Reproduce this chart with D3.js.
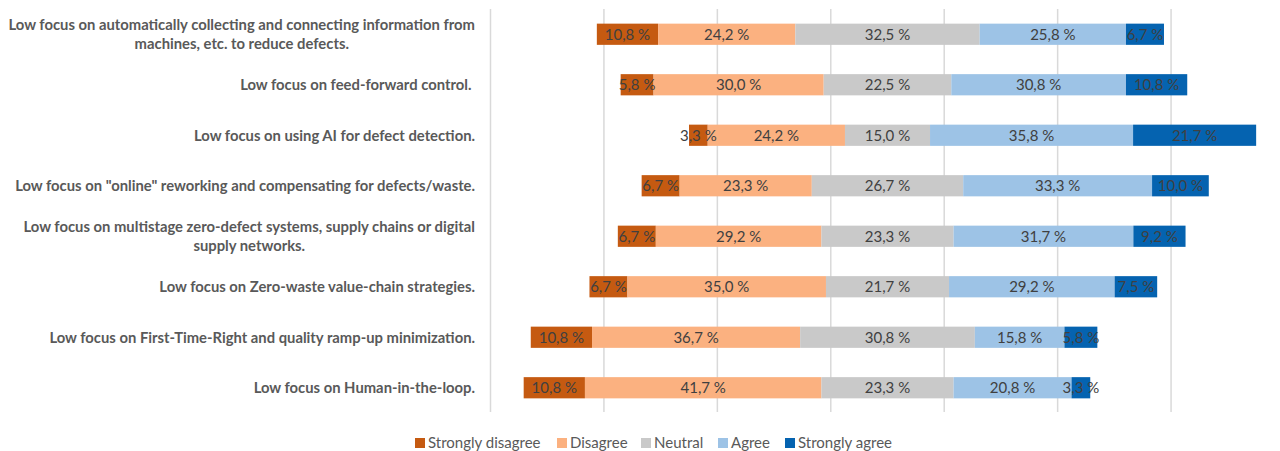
<!DOCTYPE html>
<html>
<head>
<meta charset="utf-8">
<script src="https://cdn.jsdelivr.net/npm/d3@7"></script>
<style>
  html, body { margin: 0; padding: 0; background: #fff; }
  svg { display: block; }
  .cat { font-family: Lato, "Open Sans", sans-serif; font-weight: bold; fill: #595959; white-space: pre; }
  .val { font-family: Lato, "Open Sans", sans-serif; font-size: 15px; fill: #404040; }
  .leg { font-family: Lato, "Open Sans", sans-serif; font-size: 15px; fill: #595959; }
</style>
</head>
<body>
<svg id="chart" width="1280" height="451"></svg>
<script>
// categories, top to bottom (each entry = lines of the label)
const categories = [
    ["Low focus on automatically collecting and connecting information from", "machines, etc. to reduce defects."],
    ["Low focus on feed-forward control. "],
    ["Low focus on using AI for defect detection."],
    ["Low focus on \"online\" reworking and compensating for defects/waste."],
    ["Low focus on multistage zero-defect systems, supply chains or digital", "supply networks."],
    ["Low focus on Zero-waste value-chain strategies."],
    ["Low focus on First-Time-Right and quality ramp-up minimization."],
    ["Low focus on Human-in-the-loop."]
];

const seriesNames = ["Strongly disagree", "Disagree", "Neutral", "Agree", "Strongly agree"];
const stronglyDisagree = [10.8, 5.8, 3.3, 6.7, 6.7, 6.7, 10.8, 10.8];
const disagree         = [24.2, 30.0, 24.2, 23.3, 29.2, 35.0, 36.7, 41.7];
const neutral          = [32.5, 22.5, 15.0, 26.7, 23.3, 21.7, 30.8, 23.3];
const agree            = [25.8, 30.8, 35.8, 33.3, 31.7, 29.2, 15.8, 20.8];
const stronglyAgree    = [6.7, 10.8, 21.7, 10.0, 9.2, 7.5, 5.8, 3.3];
const gridTicks = [0, 20, 40, 60, 80, 100, 120];

const COLORS = ["#C55A11", "#FBB180", "#C9C9C9", "#9DC3E6", "#0563B0"];
const CENTER = 70; // neutral midpoint sits here on the hidden axis

const svg = d3.select("#chart");

const x = d3.scaleLinear().domain([0, 140]).range([490.5, 1284.5]);
const y = d3.scaleBand().domain(d3.range(categories.length)).range([9, 413]).paddingInner(0.58).paddingOuter(0.29);

// gridlines
svg.append("g")
    .selectAll("line")
    .data(gridTicks)
    .enter().append("line")
        .attr("x1", (d) => x(d))
        .attr("x2", (d) => x(d))
        .attr("y1", 9)
        .attr("y2", 412)
        .attr("stroke", "#D9D9D9")
        .attr("stroke-width", 1.5);

// build stacked rows with invisible left padding
const series = [stronglyDisagree, disagree, neutral, agree, stronglyAgree];
const rows = categories.map((c, i) => {
    let start = CENTER - stronglyDisagree[i] - disagree[i] - neutral[i] / 2;
    let segs = [];
    series.forEach((s, k) => {
        segs.push({ row: i, k: k, v: s[i], x0: start, x1: start + s[i] });
        start += s[i];
    });
    return segs;
});

const bars = svg.append("g");
rows.forEach((segs) => {
    bars.selectAll(null)
        .data(segs)
        .enter().append("rect")
            .attr("x", (d) => x(d.x0))
            .attr("width", (d) => x(d.x1) - x(d.x0))
            .attr("y", (d) => y(d.row))
            .attr("height", y.bandwidth())
            .attr("fill", (d) => COLORS[d.k]);

    bars.selectAll(null)
        .data(segs)
        .enter().append("text")
            .attr("class", "val")
            .attr("x", (d) => (x(d.x0) + x(d.x1)) / 2)
            .attr("y", (d) => y(d.row) + y.bandwidth() / 2)
            .attr("dy", "0.36em")
            .attr("text-anchor", "middle")
            .text((d) => d.v.toFixed(1).replace(".", ",") + " %");
});

// category labels, fit so the widest line matches the reference
const labels = svg.append("g");
let fontSize = 14;
labels.style("font-size", fontSize + "px");
const probe = labels.append("text").attr("class", "cat").text(categories[0][0]);
fontSize = fontSize * 467 / probe.node().getComputedTextLength();
probe.remove();
labels.style("font-size", fontSize + "px");

const LABEL_RIGHT = 475;
const LINE_H = 18.5;
categories.forEach((lines, i) => {
    let g = labels.append("g");
    let texts = lines.map((l) => g.append("text").attr("class", "cat").text(l));
    let w = d3.max(texts, (t) => t.node().getComputedTextLength());
    let cy = y(i) + y.bandwidth() / 2;
    let top = cy - (lines.length - 1) * LINE_H / 2;
    texts.forEach((t, j) => {
        t.attr("x", LABEL_RIGHT - w / 2)
            .attr("y", top + j * LINE_H)
            .attr("dy", "0.36em")
            .attr("text-anchor", "middle");
    });
});

// legend
const legendX = [415, 557, 641, 718, 785];
const legend = svg.append("g");
seriesNames.forEach((name, k) => {
    legend.append("rect")
        .attr("x", legendX[k])
        .attr("y", 438)
        .attr("width", 10)
        .attr("height", 10)
        .attr("fill", COLORS[k]);
    legend.append("text")
        .attr("class", "leg")
        .attr("x", legendX[k] + 13)
        .attr("y", 443)
        .attr("dy", "0.36em")
        .text(name);
});
</script>
</body>
</html>
